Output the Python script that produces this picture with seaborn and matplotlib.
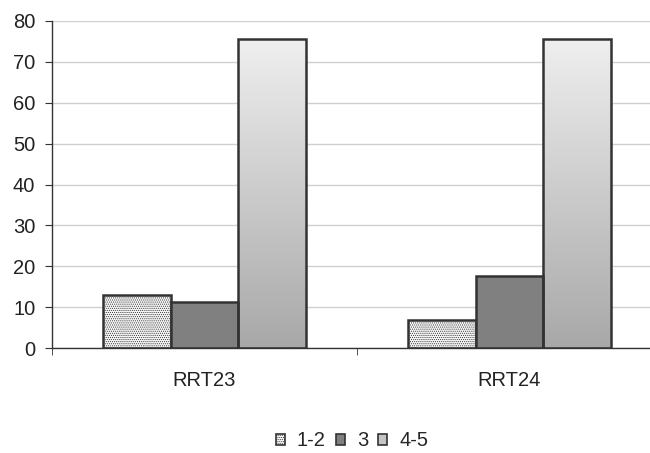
import numpy as np
import pandas as pd
import matplotlib
matplotlib.use("Agg")
import matplotlib.pyplot as plt
from matplotlib.patches import Patch
import seaborn as sns

categories = ["RRT23", "RRT24"]
groups = ["1-2", "3", "4-5"]
values_12 = [13.0, 6.8]
values_3 = [11.4, 17.6]
values_45 = [75.6, 75.6]

df = pd.DataFrame({
    "cat": categories * 3,
    "grp": [g for g in groups for _ in categories],
    "val": values_12 + values_3 + values_45,
})

sns.set_style("white")
plt.rcParams["font.family"] = ["Liberation Sans", "DejaVu Sans"]
plt.rcParams["hatch.color"] = "#c4c4c4"
plt.rcParams["hatch.linewidth"] = 0.5

FS = 14.5
fig = plt.figure(figsize=(6.5, 4.53), dpi=100)
# the plot area runs a little past the right edge of the figure
ax = fig.add_axes([52 / 650, 1 - 348.3 / 453, 610 / 650, (348.3 - 20.7) / 453])

palette = {"1-2": "#f6f6f6", "3": "#808080", "4-5": "#c8c8c8"}
sns.barplot(data=df, x="cat", y="val", hue="grp", hue_order=groups,
            order=categories, palette=palette, width=0.665, ax=ax,
            edgecolor="#333333", linewidth=1.8, legend=False, saturation=1)

ax.yaxis.grid(True, color="#d0d0d0", linewidth=1)
ax.set_axisbelow(True)

# fine dotted fill for the first group
for bar in ax.containers[0]:
    bar.set_hatch("........")

# vertical gradient for the last group
grad = np.linspace(0, 1, 256).reshape(-1, 1)
cmap = matplotlib.colors.LinearSegmentedColormap.from_list("g", ["#a8a8a8", "#efefef"])
for bar in ax.containers[2]:
    x0, y0 = bar.get_x(), bar.get_y()
    w, h = bar.get_width(), bar.get_height()
    im = ax.imshow(grad, extent=[x0, x0 + w, y0, y0 + h], origin="lower",
                   cmap=cmap, aspect="auto", zorder=bar.get_zorder() - 0.01)
    im.set_clip_path(bar)
    bar.set_facecolor("none")

ax.set_xlim(-0.5, 1.5)
ax.set_ylim(0, 80)
ax.set_yticks(range(0, 81, 10))

for s in ["top", "right"]:
    ax.spines[s].set_visible(False)
for s in ["left", "bottom"]:
    ax.spines[s].set_color("#333333")
    ax.spines[s].set_linewidth(1)

ax.set_xlabel("")
ax.set_ylabel("")
ax.set_xticks([0, 1])
ax.set_xticklabels(categories)
ax.tick_params(axis="x", labelsize=FS, colors="#222222", length=0, pad=16)
ax.tick_params(axis="y", labelsize=FS, colors="#222222", pad=7, length=5,
               direction="out", left=True)
ax.tick_params(axis="y", color="#333333")
# ticks at the category boundaries
ax.set_xticks([-0.5, 0.5, 1.5], minor=True)
ax.tick_params(axis="x", which="minor", length=5, direction="out", bottom=True,
               color="#333333")

handles = [
    Patch(facecolor="#f6f6f6", edgecolor="#333333", hatch="........", linewidth=1.2),
    Patch(facecolor="#808080", edgecolor="#333333", linewidth=1.2),
    Patch(facecolor="#c4c4c4", edgecolor="#333333", linewidth=1.2),
]
fig.legend(handles, groups, loc="center", bbox_to_anchor=(352 / 650, 1 - 441 / 453),
           ncol=3, frameon=False, fontsize=FS, handlelength=0.45, handleheight=0.45,
           handletextpad=0.6, columnspacing=0.5, borderaxespad=0, borderpad=0)

fig.savefig("out.png", dpi=100)
